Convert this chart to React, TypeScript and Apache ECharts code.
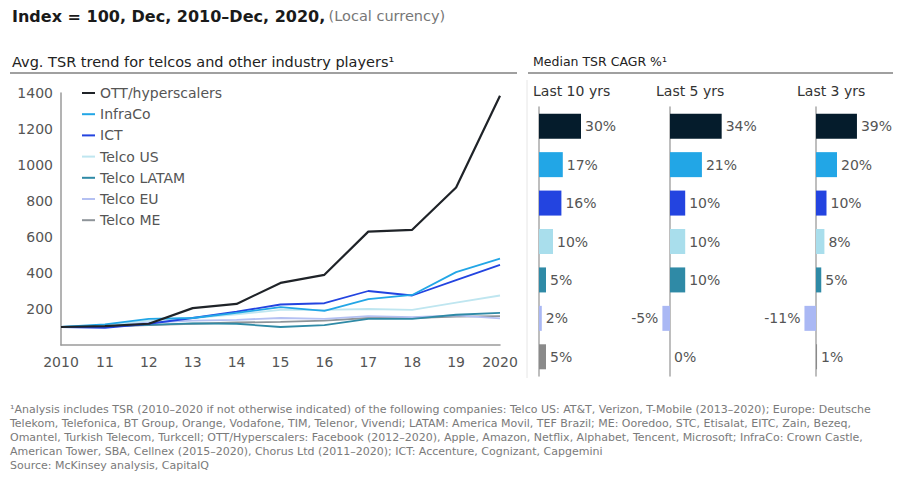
import React, { useEffect, useRef } from "react";
import * as echarts from "echarts";

const years = ["2010", "11", "12", "13", "14", "15", "16", "17", "18", "19", "2020"];
const seriesNames = ["OTT/hyperscalers", "InfraCo", "ICT", "Telco US", "Telco LATAM", "Telco EU", "Telco ME"];
const seriesColors = ["#1f2328", "#22a6e6", "#2344e0", "#bfe6f0", "#2f8aa6", "#b4c0f2", "#8e9499"];
const barColors = ["#051c2c", "#22a6e6", "#2344e0", "#a9deec", "#2f8aa6", "#aab8f4", "#8a8a8a"];

const ott = [100, 105, 118, 205, 228, 345, 390, 630, 640, 875, 1385];
const infraCo = [100, 115, 145, 150, 178, 210, 190, 255, 278, 405, 480];
const ict = [100, 95, 118, 150, 185, 225, 232, 300, 275, 360, 445];
const telcoUS = [100, 110, 135, 150, 170, 195, 195, 200, 195, 235, 275];
const telcoLATAM = [100, 105, 112, 120, 118, 100, 110, 145, 145, 168, 178];
const telcoEU = [100, 108, 125, 135, 140, 150, 145, 160, 155, 165, 148];
const telcoME = [100, 102, 110, 118, 125, 128, 135, 150, 150, 158, 160];
const lineData = [ott, infraCo, ict, telcoUS, telcoLATAM, telcoEU, telcoME];

const last10 = [30, 17, 16, 10, 5, 2, 5];
const last5 = [34, 21, 10, 10, 10, -5, 0];
const last3 = [39, 20, 10, 8, 5, -11, 1];
const panelTitles = ["Last 10 yrs", "Last 5 yrs", "Last 3 yrs"];

const yMax = 1400;
const yInterval = 200;

const footnoteLines = [
  "\u00B9Analysis includes TSR (2010\u20132020 if not otherwise indicated) of the following companies: Telco US: AT&T, Verizon, T-Mobile (2013\u20132020); Europe: Deutsche",
  "Telekom, Telefonica, BT Group, Orange, Vodafone, TIM, Telenor, Vivendi; LATAM: America Movil, TEF Brazil; ME: Ooredoo, STC, Etisalat, EITC, Zain, Bezeq,",
  "Omantel, Turkish Telecom, Turkcell; OTT/Hyperscalers: Facebook (2012\u20132020), Apple, Amazon, Netflix, Alphabet, Tencent, Microsoft; InfraCo: Crown Castle,",
  "American Tower, SBA, Cellnex (2015\u20132020), Chorus Ltd (2011\u20132020); ICT: Accenture, Cognizant, Capgemini",
  "Source: McKinsey analysis, CapitalQ",
];

const FONT = "'DejaVu Sans', 'Noto Sans', sans-serif";

export default function App() {
  const ref = useRef<HTMLDivElement>(null);
  useEffect(() => {
    if (!ref.current) return;
    const chart = echarts.init(ref.current, undefined, { renderer: "svg" });

    const panels = [
      { zero: 539, ppu: 1.4, min: 0, max: 40, data: last10 },
      { zero: 670, ppu: 1.52, min: -10, max: 40, data: last5 },
      { zero: 816, ppu: 1.05, min: -20, max: 40, data: last3 },
    ];

    const grids: any[] = [{ left: 61, top: 93, width: 439, height: 252 }];
    const xAxes: any[] = [
      {
        type: "category",
        gridIndex: 0,
        data: years,
        boundaryGap: false,
        axisLine: { lineStyle: { color: "#9a9a9a", width: 1.5 } },
        axisTick: { show: false },
        axisLabel: { color: "#555", fontSize: 14, fontFamily: FONT, margin: 10, interval: 0 },
      },
    ];
    const yAxes: any[] = [
      {
        type: "value",
        gridIndex: 0,
        min: 0,
        max: yMax,
        interval: yInterval,
        axisLine: { show: true, lineStyle: { color: "#9a9a9a", width: 1.5 } },
        axisTick: { show: false },
        splitLine: { show: false },
        axisLabel: {
          color: "#555",
          fontSize: 14,
          fontFamily: FONT,
          margin: 8,
          formatter: (v: number) => (v === 0 ? "" : String(v)),
        },
      },
    ];

    const series: any[] = seriesNames.map((name, i) => ({
      type: "line",
      name,
      xAxisIndex: 0,
      yAxisIndex: 0,
      data: lineData[i],
      symbol: "none",
      z: i === 0 ? 10 : 3 + (6 - i) * 0.1,
      lineStyle: { color: seriesColors[i], width: i === 0 ? 2.2 : 1.8 },
      itemStyle: { color: seriesColors[i] },
    }));

    panels.forEach((p, k) => {
      const gi = k + 1;
      const left = p.zero + p.min * p.ppu;
      const width = (p.max - p.min) * p.ppu;
      grids.push({ left, top: 107, width, height: 269 });
      xAxes.push({
        type: "value",
        gridIndex: gi,
        min: p.min,
        max: p.max,
        show: false,
        splitLine: { show: false },
      });
      yAxes.push({
        type: "category",
        gridIndex: gi,
        data: seriesNames,
        inverse: true,
        axisLine: { show: true, onZero: true, lineStyle: { color: "#a8a8a8", width: 1.5 } },
        axisTick: { show: false },
        axisLabel: { show: false },
        splitLine: { show: false },
      });
      series.push({
        type: "bar",
        xAxisIndex: gi,
        yAxisIndex: gi,
        barWidth: 25,
        data: p.data.map((v, i) => ({
          value: v,
          itemStyle: { color: barColors[i] },
          label: {
            show: true,
            position: v < 0 ? "left" : "right",
            distance: 4,
            formatter: `${v}%`,
            color: "#555",
            fontSize: 14,
            fontFamily: FONT,
          },
        })),
      });
    });

    const graphic: any[] = [
      {
        type: "text",
        left: 12,
        top: 8,
        style: {
          text: "{b|Index = 100, Dec, 2010\u2013Dec, 2020,} {g|(Local currency)}",
          rich: {
            b: { fontSize: 16, fontWeight: "bold", fill: "#1a1a1a", fontFamily: FONT },
            g: { fontSize: 14.5, fill: "#777", fontFamily: FONT },
          },
        },
      },
      {
        type: "text",
        left: 12,
        top: 54,
        style: { text: "Avg. TSR trend for telcos and other industry players\u00B9", fontSize: 14.5, fill: "#222", fontFamily: FONT },
      },
      {
        type: "text",
        left: 533,
        top: 55,
        style: { text: "Median TSR CAGR %\u00B9", fontSize: 12.5, fill: "#222", fontFamily: FONT },
      },
      { type: "line", shape: { x1: 10, y1: 73, x2: 517, y2: 73 }, style: { stroke: "#a0a0a0", lineWidth: 2 } },
      { type: "line", shape: { x1: 528, y1: 73, x2: 893, y2: 73 }, style: { stroke: "#a0a0a0", lineWidth: 2 } },
      { type: "line", shape: { x1: 527, y1: 80, x2: 527, y2: 378 }, style: { stroke: "#e6e6e6", lineWidth: 1 } },
      ...panelTitles.map((t, k) => ({
        type: "text",
        left: [533, 656, 797][k],
        top: 84,
        style: { text: t, fontSize: 14, fill: "#333", fontFamily: FONT },
      })),
      {
        type: "text",
        left: 10,
        top: 403,
        style: {
          text: footnoteLines.join("\n"),
          fontSize: 11,
          lineHeight: 13.8,
          fill: "#7a7a7a",
          fontFamily: FONT,
        },
      },
    ];

    chart.setOption({
      animation: false,
      backgroundColor: "#ffffff",
      grid: grids,
      xAxis: xAxes,
      yAxis: yAxes,
      series,
      legend: {
        data: seriesNames,
        orient: "vertical",
        left: 77,
        top: 81,
        icon: "rect",
        itemWidth: 13,
        itemHeight: 2,
        itemGap: 7.2,
        textStyle: { color: "#555", fontSize: 14, fontFamily: FONT },
        selectedMode: false,
      },
      graphic,
    });
    return () => chart.dispose();
  }, []);
  return (
    <div
      ref={ref}
      style={{ position: "fixed", left: 0, top: 0, width: 901, height: 481, background: "#fff" }}
    />
  );
}
